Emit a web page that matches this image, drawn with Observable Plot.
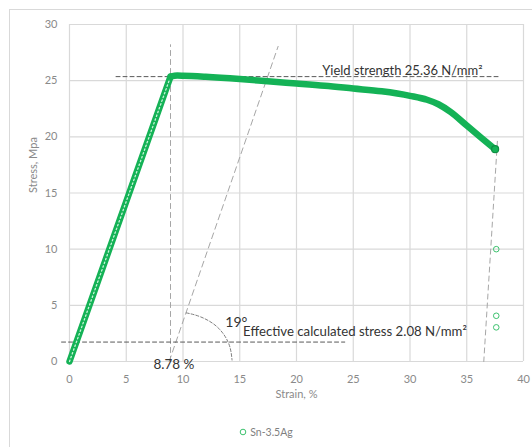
<!DOCTYPE html>
<html><head><meta charset="utf-8">
<script src="https://cdn.jsdelivr.net/npm/d3@7"></script>
<script src="https://cdn.jsdelivr.net/npm/@observablehq/plot@0.6"></script>
<style>
body{margin:0;background:#fff;font-family:Lato,"Liberation Sans",sans-serif;}
#wrap{position:relative;width:532px;height:447px;overflow:hidden;}
#frame{position:absolute;left:9px;top:9px;width:560px;height:480px;border:1.5px solid #d9d9d9;box-sizing:border-box;}
#chart{position:absolute;left:0;top:0;}
#legend{position:absolute;left:0;top:420px;width:532px;height:24px;display:flex;align-items:center;justify-content:center;font-size:10.5px;color:#7f7f7f;}
#legend svg{margin-right:3px;}
</style>
</head><body>
<div id="wrap"><div id="frame"></div><div id="chart"></div>
<div id="legend"><svg width="8" height="8"><circle cx="4" cy="4" r="2.8" fill="none" stroke="#3cc26e" stroke-width="1"/></svg><span>Sn-3.5Ag</span></div></div>
<script>
// Series: Sn-3.5Ag stress-strain
const elasticStrain = [0, 8.9];
const elasticStress = [0, 25.36];
const plasticStrain = [8.9, 9.5, 10, 12, 15, 18, 20, 22.5, 25, 27.5, 30, 31.5, 32.5, 33.6, 35, 36.3, 37.5];
const plasticStress = [25.36, 25.45, 25.44, 25.35, 25.15, 24.9, 24.75, 24.55, 24.3, 24.05, 23.65, 23.3, 22.9, 22.2, 21.0, 19.9, 18.9];
const looseStrain = [37.6, 37.6, 37.6];
const looseStress = [10.0, 4.07, 3.04];
// Ticks
const xTicks = [0, 5, 10, 15, 20, 25, 30, 35, 40];
const yTicks = [0, 5, 10, 15, 20, 25, 30];
// Annotation guides
const yieldLineStrain = [4.1, 38.0];
const yieldLineStress = [25.36, 25.36];
const yieldVertStrain = [8.9, 8.9];
const yieldVertStress = [0, 28.2];
const offsetStrain = [8.78, 18.38];
const offsetStress = [0, 28.05];
const effLineStrain = [-0.7, 24.25];
const effLineStress = [1.73, 1.73];
const fractureStrain = [37.7, 36.5];
const fractureStress = [19.6, 0];
const arcStrain = [10.29, 11.53, 13.0, 14.02, 14.32];
const arcStress = [4.33, 3.98, 3.09, 1.62, 0.13];
// Labels
const yieldLabel = "Yield strength 25.36 N/mm²";
const effLabel = "Effective calculated stress 2.08 N/mm²";
const offsetLabel = "8.78 %";
const angleLabel = "19°";

const pts = (xs, ys) => xs.map((x, i) => ({x, y: ys[i]}));
const green = "#14b256";

const chart = Plot.plot({
  width: 532, height: 420,
  marginLeft: 69, marginRight: 9, marginTop: 24, marginBottom: 59,
  style: {fontFamily: "Lato, 'Liberation Sans', sans-serif", background: "transparent"},
  x: {domain: [0, 40], ticks: xTicks, label: null},
  y: {domain: [0, 30], ticks: yTicks, label: null},
  marks: [
    Plot.gridX(xTicks, {stroke: "#d9d9d9", strokeOpacity: 1, strokeWidth: 1.2}),
    Plot.gridY(yTicks, {stroke: "#d9d9d9", strokeOpacity: 1, strokeWidth: 1.2}),
    Plot.axisX(xTicks, {tickSize: 0, tickPadding: 14, fontSize: 11, fill: "#8a8a8a", label: null}),
    Plot.axisY(yTicks, {tickSize: 0, tickPadding: 12, fontSize: 11, fill: "#8a8a8a", label: null}),
    Plot.text(["Strain, %"], {frameAnchor: "bottom", dy: 36, fontSize: 11, fill: "#8a8a8a"}),
    Plot.text(["Stress, Mpa"], {frameAnchor: "left", dx: -36, rotate: -90, fontSize: 11, fill: "#8a8a8a"}),
    // guides
    Plot.line(pts(yieldVertStrain, yieldVertStress), {x: "x", y: "y", stroke: "#a6a6a6", strokeWidth: 1, strokeDasharray: "5,4"}),
    Plot.line(pts(offsetStrain, offsetStress), {x: "x", y: "y", stroke: "#a6a6a6", strokeWidth: 1, strokeDasharray: "6,4"}),
    Plot.line(pts(fractureStrain, fractureStress), {x: "x", y: "y", stroke: "#a6a6a6", strokeWidth: 1, strokeDasharray: "5,4"}),
    Plot.line(pts(arcStrain, arcStress), {x: "x", y: "y", curve: "natural", stroke: "#7f7f7f", strokeWidth: 1, strokeDasharray: "3,2"}),
    Plot.line(pts(yieldLineStrain, yieldLineStress), {x: "x", y: "y", stroke: "#595959", strokeWidth: 1, strokeDasharray: "4,3"}),
    Plot.line(pts(effLineStrain, effLineStress), {x: "x", y: "y", stroke: "#595959", strokeWidth: 1, strokeDasharray: "4,3", clip: false}),
    // data
    Plot.line(pts(elasticStrain, elasticStress), {x: "x", y: "y", stroke: green, strokeWidth: 6.5, strokeLinecap: "round"}),
    Plot.line(pts(elasticStrain, elasticStress), {x: "x", y: "y", stroke: "#e8fff0", strokeWidth: 1.3, strokeDasharray: "1.5,2.5", strokeOpacity: 0.85}),
    Plot.line(pts(plasticStrain, plasticStress), {x: "x", y: "y", curve: "monotone-x", stroke: green, strokeWidth: 6.5, strokeLinecap: "round", strokeLinejoin: "round"}),
    Plot.dot(pts([plasticStrain.at(-1)], [plasticStress.at(-1)]), {x: "x", y: "y", r: 3.5, stroke: "#0e8f43", strokeWidth: 1.2, fill: green}),
    Plot.dot(pts(looseStrain, looseStress), {x: "x", y: "y", r: 2.8, stroke: "#3cc26e", strokeWidth: 1, fill: "none"}),
    // annotation texts
    Plot.text([yieldLabel], {x: 22.26, y: 25.9, textAnchor: "start", fontSize: 13, fill: "#333"}),
    Plot.text([effLabel], {x: 15.29, y: 2.62, textAnchor: "start", fontSize: 13.2, fill: "#333"}),
    Plot.text([offsetLabel], {x: 9.2, y: -0.3, fontSize: 13.5, fill: "#333"}),
    Plot.text([angleLabel], {x: 13.73, y: 3.5, textAnchor: "start", fontSize: 14, fill: "#333"})
  ]
});
document.getElementById("chart").append(chart);
</script>
</body></html>
